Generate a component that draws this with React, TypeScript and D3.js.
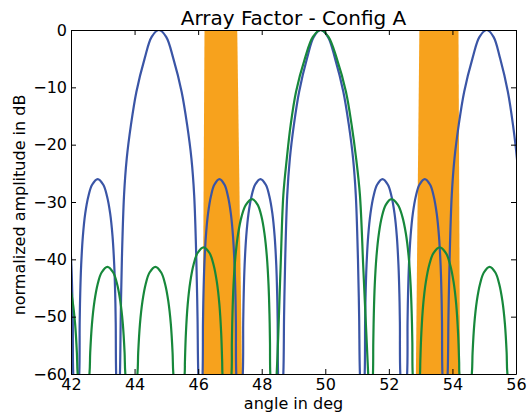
import React, { useEffect, useRef } from 'react';
import * as d3 from 'd3';

const width = 531;
const height = 416;
const margin = { top: 30, right: 15, bottom: 42, left: 71 };

const xDomain = [42, 56];
const yDomain = [-60, 0];
const xTicks = [42, 44, 46, 48, 50, 52, 54, 56];
const yTicks = [0, -10, -20, -30, -40, -50, -60];

// [angle in deg, amplitude in dB] (nulls sit below the axis)
const blueA: [number, number][] = [
  [41.885, -32], [41.959, -36], [42.011, -41], [42.04, -46], [42.057, -51], [42.07, -60],
  [42.165, -68],
  [42.26, -60], [42.273, -51], [42.29, -46], [42.32, -41], [42.373, -36], [42.448, -32], [42.547, -29], [42.664, -27],
  [42.84, -26], [43.016, -27], [43.133, -29], [43.232, -32], [43.307, -36], [43.36, -41], [43.39, -46], [43.407, -51], [43.42, -60],
  [43.48, -68],
  [43.54, -60], [43.565, -50], [43.601, -40], [43.669, -28.8], [43.754, -22.4], [43.885, -16.6], [44.058, -10.76], [44.318, -4.94], [44.538, -1.2],
  [44.765, 0], [44.994, -1.2], [45.218, -4.94], [45.48, -10.76], [45.655, -16.6], [45.788, -22.4], [45.875, -28.8], [45.943, -40], [45.98, -50], [46.005, -60],
  [46.075, -68],
  [46.14, -60], [46.152, -51], [46.168, -46], [46.195, -41], [46.243, -36], [46.312, -32], [46.402, -29], [46.509, -27],
  [46.67, -26], [46.831, -27], [46.938, -29], [47.028, -32], [47.097, -36], [47.145, -41], [47.172, -46], [47.188, -51], [47.2, -60],
  [47.3, -68],
  [47.405, -60], [47.418, -51], [47.434, -46], [47.462, -41], [47.513, -36], [47.585, -32], [47.679, -29], [47.791, -27],
  [47.96, -26], [48.129, -27], [48.241, -29], [48.335, -32], [48.407, -36], [48.458, -41], [48.486, -46], [48.502, -51], [48.515, -60],
  [48.595, -68],
  [48.68, -60], [48.703, -50], [48.739, -40], [48.803, -28.8], [48.886, -22.4], [49.011, -16.6], [49.177, -10.76], [49.426, -4.94], [49.638, -1.2],
  [49.855, 0], [50.083, -1.2], [50.306, -4.94], [50.568, -10.76], [50.742, -16.6], [50.874, -22.4], [50.96, -28.8], [51.028, -40], [51.065, -50], [51.09, -60],
  [51.165, -68],
  [51.24, -60], [51.253, -51], [51.269, -46], [51.298, -41], [51.349, -36], [51.422, -32], [51.517, -29], [51.63, -27],
  [51.8, -26], [51.97, -27], [52.083, -29], [52.178, -32], [52.251, -36], [52.302, -41], [52.331, -46], [52.347, -51], [52.36, -60],
  [52.46, -68],
  [52.575, -60], [52.588, -51], [52.604, -46], [52.632, -41], [52.683, -36], [52.755, -32], [52.849, -29], [52.961, -27],
  [53.13, -26], [53.299, -27], [53.411, -29], [53.505, -32], [53.577, -36], [53.628, -41], [53.656, -46], [53.672, -51], [53.685, -60],
  [53.765, -68],
  [53.85, -60], [53.875, -50], [53.911, -40], [53.979, -28.8], [54.065, -22.4], [54.197, -16.6], [54.37, -10.76], [54.631, -4.94], [54.852, -1.2],
  [55.08, 0], [55.293, -1.2], [55.5, -4.94], [55.744, -10.76], [55.906, -16.6], [56.029, -22.4], [56.109, -28.8], [56.17, -40],
];

const greenA: [number, number][] = [
  [41.64, -41.3], [41.825, -42.3], [41.948, -44.3], [42.05, -47.3], [42.13, -51.3], [42.185, -56.3], [42.21, -60],
  [42.38, -68],
  [42.58, -60], [42.604, -56.3], [42.659, -51.3], [42.739, -47.3], [42.84, -44.3], [42.962, -42.3],
  [43.145, -41.3], [43.328, -42.3], [43.45, -44.3], [43.551, -47.3], [43.631, -51.3], [43.686, -56.3], [43.71, -60],
  [43.89, -68],
  [44.09, -60], [44.114, -56.3], [44.169, -51.3], [44.249, -47.3], [44.35, -44.3], [44.472, -42.3],
  [44.655, -41.3], [44.838, -42.3], [44.96, -44.3], [45.061, -47.3], [45.141, -51.3], [45.196, -56.3], [45.22, -60],
  [45.39, -68],
  [45.575, -60], [45.584, -57.9], [45.615, -52.9], [45.671, -47.9], [45.753, -43.9], [45.857, -40.9], [45.982, -38.9],
  [46.17, -37.9], [46.358, -38.9], [46.483, -40.9], [46.587, -43.9], [46.669, -47.9], [46.725, -52.9], [46.756, -57.9], [46.765, -60],
  [46.9, -68],
  [47.05, -60], [47.061, -54.5], [47.08, -49.5], [47.113, -44.5], [47.173, -39.5], [47.259, -35.5], [47.368, -32.5], [47.501, -30.5],
  [47.7, -29.5], [47.874, -30.5], [47.991, -32.5], [48.087, -35.5], [48.162, -39.5], [48.215, -44.5], [48.244, -49.5], [48.26, -54.5], [48.27, -60],
  [48.37, -68],
  [48.47, -60], [48.59, -42], [48.68, -28.8], [48.79, -22.4], [48.91, -16.6], [49.08, -10.76], [49.36, -4.94], [49.61, -1.2],
  [49.855, 0], [50.1, -1.2], [50.36, -4.94], [50.65, -10.76], [50.83, -16.6], [50.97, -22.4], [51.09, -28.8], [51.2, -42], [51.35, -60],
  [51.42, -68],
  [51.5, -60], [51.51, -54.5], [51.527, -49.5], [51.556, -44.5], [51.61, -39.5], [51.686, -35.5], [51.784, -32.5], [51.903, -30.5],
  [52.08, -29.5], [52.285, -30.5], [52.422, -32.5], [52.535, -35.5], [52.623, -39.5], [52.685, -44.5], [52.719, -49.5], [52.739, -54.5], [52.75, -60],
  [52.865, -68],
  [52.98, -60], [52.989, -57.9], [53.022, -52.9], [53.08, -47.9], [53.165, -43.9], [53.274, -40.9], [53.404, -38.9],
  [53.6, -37.9], [53.796, -38.9], [53.926, -40.9], [54.035, -43.9], [54.12, -47.9], [54.178, -52.9], [54.211, -57.9], [54.22, -60],
  [54.41, -68],
  [54.61, -60], [54.634, -56.3], [54.688, -51.3], [54.767, -47.3], [54.868, -44.3], [54.989, -42.3],
  [55.17, -41.3], [55.351, -42.3], [55.472, -44.3], [55.573, -47.3], [55.652, -51.3], [55.706, -56.3], [55.73, -60],
  [55.95, -68], [56.2, -68],
];

// shaded angle regions, corners as [deg, dB]
const bandA: [number, number][] = [[46.2, 0], [47.23, 0], [47.38, -60], [46.14, -60]];
const bandB: [number, number][] = [[52.96, 0], [54.19, 0], [54.24, -60], [52.85, -60]];

const blue = '#3a55a6';
const green = '#17883b';
const orange = '#f7a21d';
const font = '"DejaVu Sans", sans-serif';

const App = () => {
  const svgRef = useRef<SVGSVGElement>(null);

  useEffect(() => {
    const svg = d3.select(svgRef.current);
    svg.selectAll('*').remove();

    const iw = width - margin.left - margin.right;
    const ih = height - margin.top - margin.bottom;

    const x = d3.scaleLinear().domain(xDomain).range([0, iw]);
    const y = d3.scaleLinear().domain(yDomain).range([ih, 0]);

    svg.append('defs').append('clipPath').attr('id', 'af-clip')
      .append('rect').attr('width', iw).attr('height', ih);

    const g = svg.append('g').attr('transform', `translate(${margin.left},${margin.top})`);
    const plot = g.append('g').attr('clip-path', 'url(#af-clip)');

    const poly = d3.line<[number, number]>()
      .x(d => x(d[0]))
      .y(d => y(d[1]))
      .curve(d3.curveLinearClosed);

    plot.selectAll('path.band')
      .data([bandA, bandB])
      .join('path')
        .attr('class', 'band')
        .attr('d', d => poly(d))
        .attr('fill', orange)
        .attr('stroke', 'none');

    const line = d3.line<[number, number]>()
      .x(d => x(d[0]))
      .y(d => y(d[1]))
      .curve(d3.curveCatmullRom.alpha(0.5));

    plot.append('path').datum(blueA)
      .attr('d', line).attr('fill', 'none').attr('stroke', blue).attr('stroke-width', 2.2);
    plot.append('path').datum(greenA)
      .attr('d', line).attr('fill', 'none').attr('stroke', green).attr('stroke-width', 2.2);

    // axes, ticks pointing inward on all four sides
    const styleAxis = (sel: any) => {
      sel.attr('font-family', font).attr('font-size', 16);
      sel.selectAll('path.domain').attr('stroke', '#000');
      sel.selectAll('line').attr('stroke', '#000');
      sel.selectAll('text').attr('fill', '#000');
    };

    g.append('g').attr('transform', `translate(0,${ih})`)
      .call(d3.axisBottom(x).tickValues(xTicks).tickSize(-5).tickSizeOuter(0).tickPadding(5).tickFormat(d3.format('d')))
      .call(styleAxis);
    g.append('g')
      .call(d3.axisLeft(y).tickValues(yTicks).tickSize(-5).tickSizeOuter(0).tickPadding(4).tickFormat(d3.format('d')))
      .call(styleAxis);
    g.append('g')
      .call(d3.axisTop(x).tickValues(xTicks).tickSize(-5).tickSizeOuter(0).tickFormat(() => ''))
      .call(styleAxis);
    g.append('g').attr('transform', `translate(${iw},0)`)
      .call(d3.axisRight(y).tickValues(yTicks).tickSize(-5).tickSizeOuter(0).tickFormat(() => ''))
      .call(styleAxis);

    svg.append('text')
      .attr('x', margin.left + iw / 2).attr('y', 25)
      .attr('text-anchor', 'middle')
      .attr('font-family', font).attr('font-size', 20)
      .text('Array Factor - Config A');

    svg.append('text')
      .attr('x', margin.left + iw / 2).attr('y', 409)
      .attr('text-anchor', 'middle')
      .attr('font-family', font).attr('font-size', 16)
      .text('angle in deg');

    svg.append('text')
      .attr('transform', `translate(25,${margin.top + ih / 2 + 3}) rotate(-90)`)
      .attr('text-anchor', 'middle')
      .attr('font-family', font).attr('font-size', 16)
      .text('normalized amplitude in dB');
  }, []);

  return (
    <div style={{ position: 'fixed', left: 0, top: 0 }}>
      <svg ref={svgRef} width={width} height={height} style={{ display: 'block', background: '#fff' }} />
    </div>
  );
};

export default App;
